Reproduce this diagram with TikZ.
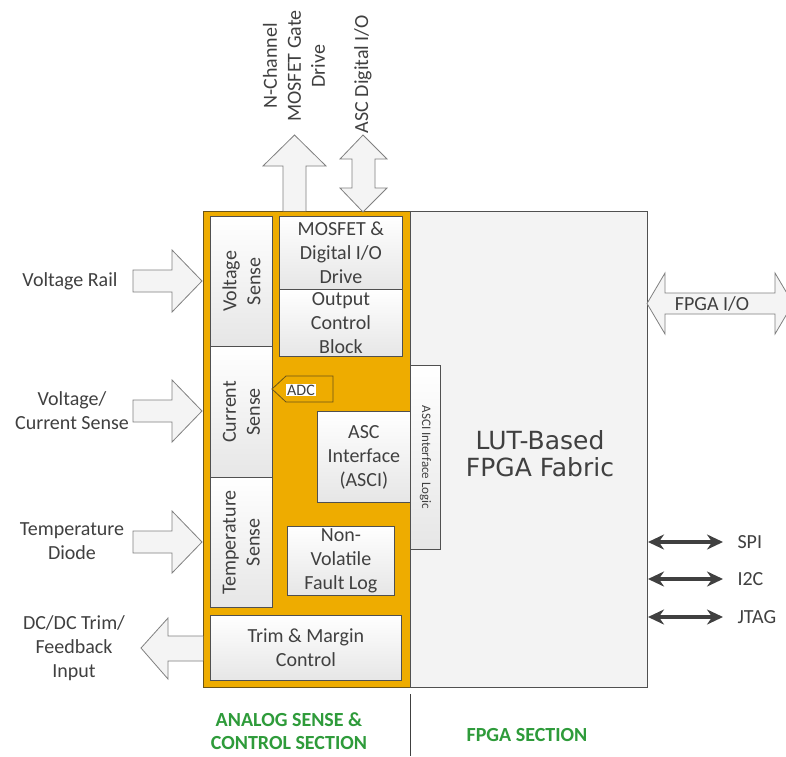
\documentclass[tikz,border=0pt]{standalone}
\usepackage{fontspec}
\setmainfont{Carlito}
\newfontfamily\lutfont{DejaVu Sans}
\usetikzlibrary{arrows.meta}
\definecolor{txt}{HTML}{404040}
\definecolor{ascorange}{HTML}{EEAC00}
\definecolor{framecol}{HTML}{6B5418}
\definecolor{boxline}{HTML}{505050}
\definecolor{boxgray}{HTML}{E6E6E6}
\definecolor{fpgafill}{HTML}{F3F3F3}
\definecolor{arrfill}{HTML}{F4F4F4}
\definecolor{arrline}{HTML}{808080}
\definecolor{secgreen}{HTML}{2E9B3A}
\tikzset{
  big/.style={font=\fontsize{20}{24}\selectfont, text=txt, align=center},
  blk/.style={draw=boxline, line width=0.8pt, top color=white, bottom color=boxgray, inner sep=0pt, anchor=north west},
  blockarrow/.style={draw=arrline, fill=arrfill, line width=0.8pt, line join=miter},
  busarrow/.style={draw=txt, line width=3.2pt, {Stealth[length=16pt,width=15pt]}-{Stealth[length=16pt,width=15pt]}},
  seclabel/.style={font=\fontsize{20}{23}\selectfont\bfseries, text=secgreen, align=center}
}
\begin{document}
\begin{tikzpicture}[x=1pt,y=-1pt]
\useasboundingbox (0,0) rectangle (786,756);
\clip (0,0) rectangle (786,756);
\fill[white] (0,0) rectangle (786,756);

% main frames
\node[draw=framecol, fill=ascorange, line width=1pt, inner sep=0pt, anchor=north west, minimum width=207pt, minimum height=476pt] (asc) at (203,211) {};
\node[draw=boxline, fill=fpgafill, line width=1pt, inner sep=0pt, anchor=north west, minimum width=237pt, minimum height=476pt] (fpga) at (410,211) {};

% sense boxes
\node[blk, minimum width=62pt, minimum height=130pt] (vs) at (210,216) {};
\node[blk, minimum width=62pt, minimum height=131pt] (cs) at (210,346) {};
\node[blk, minimum width=62pt, minimum height=130pt] (ts) at (210,477) {};
\node[big, rotate=90] (vst) at (vs.center) {Voltage\\Sense};
\node[big, rotate=90] (cst) at (cs.center) {Current\\Sense};
\node[big, rotate=90] (tst) at (ts.center) {Temperature\\Sense};

% right column boxes
\node[blk, minimum width=123pt, minimum height=73pt] (mos) at (279,216) {};
\node[big] (most) at (mos.center) {MOSFET \&\\Digital I/O\\Drive};
\node[blk, minimum width=123pt, minimum height=67pt] (ocb) at (279,289) {};
\node[big] (ocbt) at (ocb.center) {Output\\Control\\Block};

\node[blk, minimum width=30pt, minimum height=184pt] (ail) at (410,365) {};
\node[font=\fontsize{13}{15}\selectfont, text=txt, rotate=-90] (ailt) at (ail.center) {ASCI Interface Logic};

\node[blk, minimum width=93pt, minimum height=91pt] (asci) at (317,411) {};
\node[big] (ascit) at (asci.center) {ASC\\Interface\\(ASCI)};

\node[blk, minimum width=107pt, minimum height=69pt] (nvf) at (287,526) {};
\node[big] (nvft) at (nvf.center) {Non-\\Volatile\\Fault Log};

\node[blk, minimum width=191pt, minimum height=65pt] (trim) at (210,615) {};
\node[big] (trimt) at (trim.center) {Trim \& Margin\\Control};

% ADC tag
\draw[draw=framecol, fill=ascorange, line width=0.8pt] (272,389) -- (286,376) -- (333,376) -- (333,402) -- (286,402) -- cycle;
\node[fill=white, inner sep=1pt, font=\fontsize{16}{18}\selectfont, text=txt, anchor=west] (adc) at (286,390) {ADC};

% top block arrows
\draw[blockarrow] (283,211) -- (283,166) -- (263,166) -- (294.5,135) -- (326,166) -- (306,166) -- (306,211);
\draw[blockarrow] (363,135) -- (387,159) -- (375,159) -- (375,188) -- (387,188) -- (363,212) -- (340,188) -- (352,188) -- (352,159) -- (340,159) -- cycle;
\node[big, rotate=90] (ngate) at (294,66) {N-Channel\\MOSFET Gate\\Drive};
\node[big, rotate=90] (ascio) at (363,74) {ASC Digital I/O};

% left block arrows
\draw[blockarrow] (133,270) -- (172,270) -- (172,250) -- (202,281) -- (172,312) -- (172,292) -- (133,292) -- cycle;
\draw[blockarrow] (133,400) -- (172,400) -- (172,380) -- (202,411) -- (172,442) -- (172,422) -- (133,422) -- cycle;
\draw[blockarrow] (133,531) -- (172,531) -- (172,511) -- (202,542) -- (172,573) -- (172,553) -- (133,553) -- cycle;
\draw[blockarrow] (203,636) -- (168,636) -- (168,618) -- (141,648) -- (168,679) -- (168,661) -- (203,661);
\node[big] (vrail) at (70,281) {Voltage Rail};
\node[big] (vcur) at (72,411) {Voltage/\\Current Sense};
\node[big] (tdiode) at (72,541) {Temperature\\Diode};
\node[big] (dcdc) at (74,648) {DC/DC Trim/\\Feedback\\Input};

% FPGA I/O
\draw[blockarrow] (647,303.5) -- (665,273) -- (665,293) -- (775,293) -- (775,273) -- (793,303.5) -- (775,334) -- (775,314) -- (665,314) -- (665,334) -- cycle;
\node[big] (fio) at (712,303.5) {FPGA I/O};

\node[font=\lutfont\fontsize{25}{27}\selectfont, text=txt, align=center] (lut) at (540,454) {LUT-Based\\FPGA Fabric};

% bus arrows
\coordinate (spiA) at (648,542);
\coordinate (spiB) at (723,542);
\coordinate (iicA) at (648,579);
\coordinate (iicB) at (723,579);
\coordinate (jtgA) at (648,617);
\coordinate (jtgB) at (723,617);
\draw[busarrow] (spiA) -- (spiB);
\draw[busarrow] (iicA) -- (iicB);
\draw[busarrow] (jtgA) -- (jtgB);
\node[big, anchor=west] (spi) at (734,542) {SPI};
\node[big, anchor=west] (iic) at (734,579) {I2C};
\node[big, anchor=west] (jtag) at (734,617) {JTAG};

% section labels
\coordinate (divT) at (410,694);
\coordinate (divB) at (410,756);
\draw[draw=txt, line width=1pt] (divT) -- (divB);
\node[seclabel] (anl) at (289,731) {ANALOG SENSE \&\\CONTROL SECTION};
\node[seclabel] (fsec) at (527,735) {FPGA SECTION};
\end{tikzpicture}
\end{document}
